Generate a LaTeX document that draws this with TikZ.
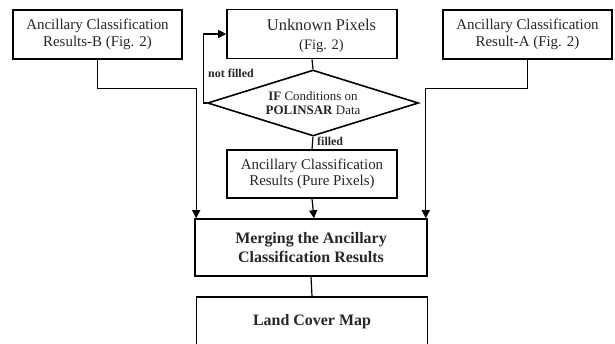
\documentclass[tikz,border=0pt]{standalone}
\usepackage{fontspec}
\setmainfont{Liberation Serif}
\usetikzlibrary{arrows.meta,shapes.geometric}
\begin{document}
\begin{tikzpicture}[x=1bp,y=-1bp,
  box/.style={draw=black,line width=1.6bp,rectangle,inner sep=0pt,align=center,text=black!85},
  ln/.style={draw=black,line width=1.2bp},
  arr/.style={ln,-{Triangle[length=8bp,width=8bp]}},
  lbl/.style={font=\fontsize{12}{13}\selectfont\bfseries,inner sep=0pt,text=black!85}]
\useasboundingbox (0,0) rectangle (615,343);
\clip (0,0) rectangle (615,343);
\fill[white] (0,0) rectangle (615,343);
\node[box,minimum width=169bp,minimum height=49bp,font=\fontsize{15}{17}\selectfont] (B) at (97.5,34.5) {Ancillary Classification\\Results-B (Fig. 2)};
\node[box,minimum width=170bp,minimum height=49bp] (U) at (312,34) {};
\node[align=center,inner sep=0pt,text=black!85,font=\fontsize{14.5}{19}\selectfont] (Ut) at (321.5,36) {{\fontsize{16.5}{19}\selectfont Unknown Pixels}\\(Fig. 2)};
\node[box,minimum width=169bp,minimum height=49bp,font=\fontsize{15}{17}\selectfont] (A) at (527.5,34.5) {Ancillary Classification\\Result-A (Fig. 2)};
\node[draw=black,line width=1.6bp,diamond,shape aspect=3.2,minimum width=211bp,minimum height=66bp,inner sep=0pt,align=center,text=black!85,font=\fontsize{13}{14.5}\selectfont] (D) at (313,103) {\textbf{IF} Conditions on\\\textbf{POLINSAR} Data};
\node[box,minimum width=170bp,minimum height=48bp,font=\fontsize{15}{16.5}\selectfont] (P) at (312,174) {Ancillary Classification\\Results (Pure Pixels)};
\node[box,minimum width=232bp,minimum height=57bp,font=\fontsize{16}{19}\selectfont\bfseries] (M) at (311,247.5) {Merging the Ancillary\\Classification Results};
\node[box,minimum width=231bp,minimum height=50bp,font=\fontsize{16}{19}\selectfont\bfseries] (L) at (312,322) {Land Cover Map};
\draw[ln] (U.south) -- (D.north);
\draw[ln] (D.south) -- (P.north);
\draw[arr] (D.west) -- ++(-3,0) |- (U.west);
\node[lbl,anchor=south west] (nf) at (208,78) {not filled};
\node[lbl,anchor=west] (f) at (317,141) {filled};
\draw[arr] (P.south) -- ([xshift=3bp]M.north);
\draw[arr] (B.south) -- ++(0,29) -| ([xshift=2bp]M.north west);
\draw[arr] (A.south) -- ++(0,29) -| ([xshift=-2bp]M.north east);
\draw[ln] (M.south) -- (L.north);
\end{tikzpicture}
\end{document}
